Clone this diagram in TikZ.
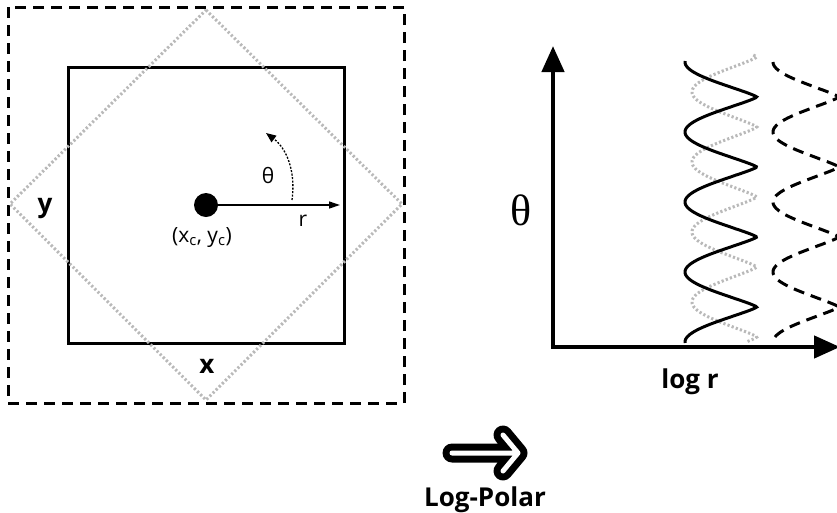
\documentclass[tikz,border=0pt]{standalone}
\usepackage{fontspec}
\setmainfont{Open Sans}
\newfontfamily\grkserif{Liberation Serif}
\usepackage{tikz}
\usetikzlibrary{arrows.meta, calc}
\tikzset{
  bold/.style={font=\fontsize{26}{30}\selectfont\bfseries, inner sep=0pt, anchor=base},
  plain/.style={font=\fontsize{21}{25}\selectfont, inner sep=0pt, anchor=base},
  frame/.style={line width=3pt},
  dashframe/.style={line width=3pt, dash pattern=on 11pt off 7pt},
  dotgray/.style={line width=3pt, gray!55, dash pattern=on 2.2pt off 2.2pt},
  axis/.style={line width=4.5pt, -{Triangle[length=26pt, width=22pt]}},
  thin arr/.style={line width=1.3pt, -{Triangle[length=11pt, width=7pt]}},
}
\begin{document}
\begin{tikzpicture}[x=1pt, y=-1pt]
  \useasboundingbox (0,0) rectangle (837,512);
  % image plane
  \draw[dashframe] (8,7) rectangle (404,403);
  \draw[frame] (68,67) rectangle (344,343);
  \draw[dotgray] (206,10) -- (402,204) -- (206,400) -- (10,204) -- cycle;
  \node[circle, fill=black, minimum size=24pt, inner sep=0pt] (ctr) at (206,205) {};
  \coordinate (rend) at (340,205);
  \draw[thin arr] (ctr) -- (rend);
  \coordinate (ta) at (292,200);
  \coordinate (tb) at (266,133);
  \draw[line width=1.3pt, dash pattern=on 2pt off 1.5pt, -{Triangle[length=10pt, width=8pt]}]
    (ta) .. controls (296,170) and (286,148) .. (tb);
  \node[plain] (th) at (268,183) {θ};
  \node[plain] (rl) at (303,226) {r};
  \node[plain] (cl) at (202,242) {(x\textsubscript{c}, y\textsubscript{c})};
  \node[bold] (yl) at (45,212) {y};
  \node[bold] (xl) at (207,373) {x};
  % log-polar plane
  \coordinate (o) at (553,347);
  \coordinate (ytip) at (553,46);
  \coordinate (xtip) at (840,347);
  \draw[axis] (o) -- (ytip);
  \draw[axis] ([xshift=-2.25pt]o) -- (xtip);
  \begin{scope}
    \clip (0,0) rectangle (837,512);
    \draw[dotgray] plot[domain=55:342, samples=300]
      ({692+65*(1-pow(abs(1-cos(5.142857*(\x-57)))/2+0.0001,0.6))}, \x);
    \draw[line width=3pt] plot[domain=61:343, samples=300]
      ({685+72*(1-pow(abs(1+cos(5.142857*(\x-62)))/2+0.0001,0.6))}, \x);
    \draw[dashframe] plot[domain=62:338, samples=300]
      ({773+66*(1-pow(abs(1+cos(5.142857*(\x-62)))/2+0.0001,0.6))}, \x);
  \end{scope}
  \node[font=\fontsize{44}{48}\selectfont\grkserif, inner sep=0pt] (bth) at (521,210) {θ};
  \node[bold] (lr) at (690,388) {log r};
  % transform arrow
  \coordinate (s0) at (452,453);
  \coordinate (s1) at (518,453);
  \coordinate (h0) at (503,435);
  \coordinate (h1) at (503,471);
  \draw[line width=19pt, line cap=round, line join=round] (s0) -- (s1) (h0) -- (s1) -- (h1);
  \draw[white, line width=5pt, line cap=round, line join=round] (s0) -- (s1) (h0) -- (s1) -- (h1);
  \node[bold] (lp) at (485,506) {Log-Polar};
\end{tikzpicture}
\end{document}
